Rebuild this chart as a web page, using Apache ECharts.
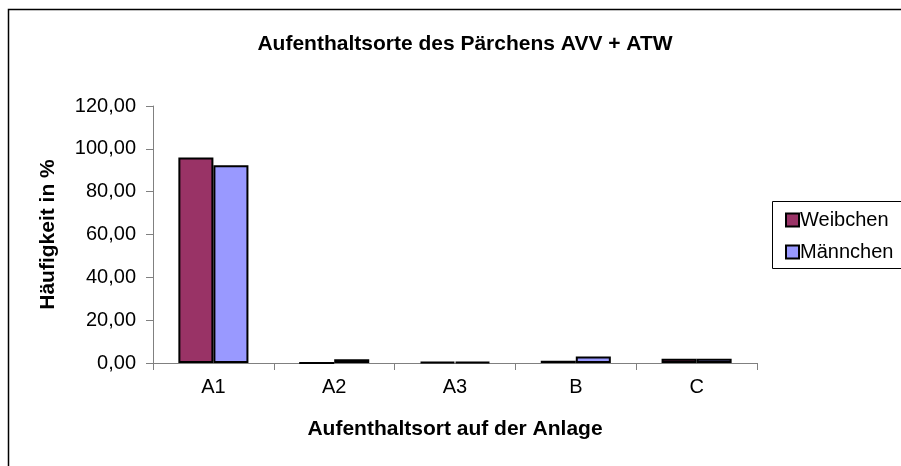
<!DOCTYPE html>
<html><head><meta charset="utf-8">
<script src="https://cdn.jsdelivr.net/npm/echarts@6/dist/echarts.min.js"></script>
<style>html,body{margin:0;padding:0;background:#fff}#c{width:901px;height:466px}</style>
</head><body><div id="c"></div>
<script>
const categories = ['A1', 'A2', 'A3', 'B', 'C'];
const weibchen = [95.9, 0, 0.5, 1.0, 2.0];
const maennchen = [92.3, 1.8, 0.5, 3.0, 2.0];
const yTicks = [0, 20, 40, 60, 80, 100, 120];

const chart = echarts.init(document.getElementById('c'), null, {renderer: 'canvas'});
const font = 'Liberation Sans, Arial, sans-serif';
chart.setOption({
  animation: false,
  backgroundColor: '#fff',
  textStyle: {fontFamily: font},
  title: {
    text: 'Aufenthaltsorte des Pärchens AVV + ATW',
    left: 460, top: 29, textAlign: 'center',
    textStyle: {fontSize: 21, fontWeight: 'bold', color: '#000', fontFamily: font}
  },
  graphic: [
    {type: 'rect', shape: {x: 8.5, y: 9.5, width: 1000, height: 1000},
     style: {fill: null, stroke: '#000', lineWidth: 1.5}, z: 0},
    {type: 'rect', shape: {x: 772.5, y: 201.5, width: 200, height: 67},
     style: {fill: '#fff', stroke: '#000', lineWidth: 1}, z: 1}
  ],
  legend: {
    orient: 'vertical', left: 780, top: 205,
    itemWidth: 13, itemHeight: 13, itemGap: 12,
    icon: 'rect',
    itemStyle: {borderColor: '#000', borderWidth: 2},
    textStyle: {fontSize: 20, color: '#000', fontFamily: font, padding: [0, 0, 0, -4]},
    data: ['Weibchen', 'Männchen'],
    z: 5
  },
  grid: {left: 153, right: 144, top: 106, bottom: 103, containLabel: false},
  xAxis: {
    type: 'category', data: categories,
    name: 'Aufenthaltsort auf der Anlage', nameLocation: 'middle', nameGap: 56,
    nameTextStyle: {fontSize: 21, fontWeight: 'bold', color: '#000', fontFamily: font},
    axisLine: {lineStyle: {color: '#808080', width: 1}},
    axisTick: {show: true, length: 7, lineStyle: {color: '#808080'}},
    axisLabel: {fontSize: 20, color: '#000', margin: 14, fontFamily: font}
  },
  yAxis: {
    type: 'value', min: 0, max: 120, interval: 20,
    name: 'Häufigkeit in %', nameLocation: 'middle', nameGap: 94, nameRotate: 90,
    nameTextStyle: {fontSize: 21, fontWeight: 'bold', color: '#000', fontFamily: font},
    axisLine: {show: true, lineStyle: {color: '#808080', width: 1}},
    axisTick: {show: true, length: 7, lineStyle: {color: '#808080'}},
    splitLine: {show: false},
    axisLabel: {fontSize: 20, color: '#000', margin: 17, fontFamily: font,
      formatter: v => yTicks.includes(v) ? v.toFixed(2).replace('.', ',') : ''}
  },
  series: [
    {name: 'Weibchen', type: 'bar', data: weibchen, barGap: '0%', barCategoryGap: '42%',
     itemStyle: {color: '#993366', borderColor: '#000', borderWidth: 2}},
    {name: 'Männchen', type: 'bar', data: maennchen,
     itemStyle: {color: '#9999FF', borderColor: '#000', borderWidth: 2}}
  ]
});
</script></body></html>
